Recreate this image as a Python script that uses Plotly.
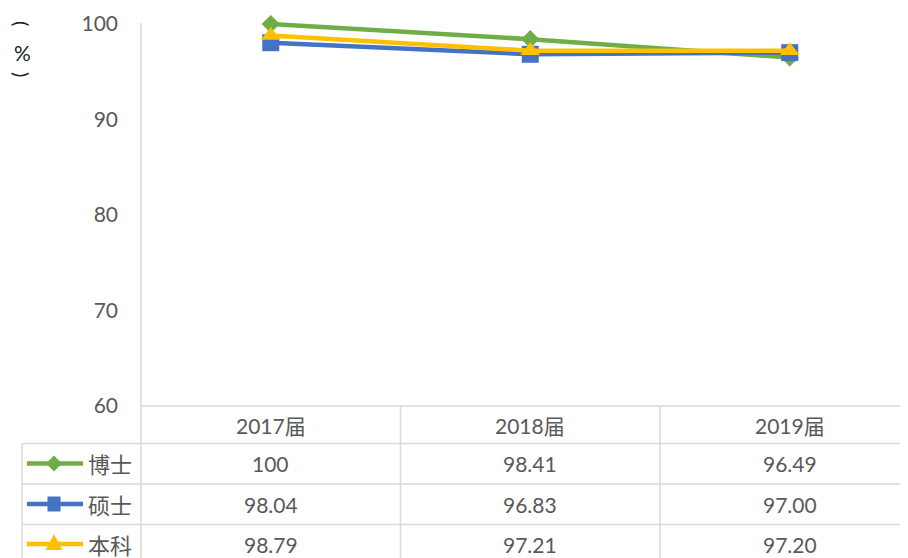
import plotly.graph_objects as go

categories = ["2017届", "2018届", "2019届"]
series_names = ["博士", "硕士", "本科"]
boshi = [100, 98.41, 96.49]
shuoshi = [98.04, 96.83, 97.00]
benke = [98.79, 97.21, 97.20]
y_ticks = [60, 70, 80, 90, 100]

series_values = [boshi, shuoshi, benke]
series_fmt = ["{:g}", "{:.2f}", "{:.2f}"]
colors = ["#70AD47", "#4472C4", "#FFC000"]
symbols = ["diamond", "square", "triangle-up"]
msizes = [14, 17, 17]

VW, VH = 908, 558          # browser viewport
OFF = 8                     # page body margin (screen = figure + OFF)
W, H = VW - OFF, VH - OFF   # figure fills the viewport without overflow
TXT = "#595959"
GRID = "#D9D9D9"
FONT = "Lato, 'Noto Sans CJK SC', sans-serif"

# screen-pixel layout targets
plot_left, plot_bottom, plot_top = 141, 406, 10
cat_w = 259.5
px_per_unit = 9.55

ML = plot_left - OFF
MT = plot_top - OFF
MB = H - (plot_bottom - OFF)
PW = W - ML
PH = H - MT - MB
x_range = [-0.5, -0.5 + PW / cat_w]
y_range = [60, 60 + PH / px_per_unit]


def sx(px):
    return (px - plot_left) / PW


def sy(py):
    return (plot_bottom - py) / PH


def cat_px(v):
    return plot_left + (v - x_range[0]) * cat_w


xs = list(range(len(categories)))
fig = go.Figure()
for name, vals, c, s, ms in zip(series_names, series_values, colors, symbols, msizes):
    fig.add_trace(go.Scatter(
        x=xs, y=vals, name=name, mode="lines+markers",
        line=dict(color=c, width=4.5),
        marker=dict(symbol=s, size=ms, color=c),
        cliponaxis=False, showlegend=False,
    ))


def hline(py, x0, x1, color=GRID, width=1.5):
    fig.add_shape(type="line", xref="paper", yref="paper",
                  x0=sx(x0), x1=sx(x1), y0=sy(py), y1=sy(py),
                  line=dict(color=color, width=width))


def vline(px, y0, y1):
    fig.add_shape(type="line", xref="paper", yref="paper",
                  x0=sx(px), x1=sx(px), y0=sy(y0), y1=sy(y1),
                  line=dict(color=GRID, width=1.5))


def poly(pts, color):
    d = "M " + " L ".join(f"{sx(x):.5f},{sy(y):.5f}" for x, y in pts) + " Z"
    fig.add_shape(type="path", xref="paper", yref="paper", path=d,
                  fillcolor=color, line=dict(color=color, width=0))


# table grid
right_edge = VW + 10
bottom_edge = VH + 10
hline(plot_bottom, plot_left, right_edge)
for py in [443.5, 484, 524.5]:
    hline(py, 22, right_edge)
vline(22, 443.5, bottom_edge)
vline(plot_left, 23, bottom_edge)
for i in range(len(categories) - 1):
    vline(cat_px(i + 0.5), plot_bottom, bottom_edge)

# legend keys in the table
row_centers = [463.5, 504, 544]
kx = 54
for c, s, rc in zip(colors, symbols, row_centers):
    hline(rc, 27, 83, color=c, width=4.5)
    if s == "diamond":
        poly([(kx, rc - 8), (kx + 8, rc), (kx, rc + 8), (kx - 8, rc)], c)
    elif s == "square":
        poly([(kx - 6.5, rc - 7.5), (kx + 6.5, rc - 7.5), (kx + 6.5, rc + 7.5), (kx - 6.5, rc + 7.5)], c)
    else:
        poly([(kx, rc - 10), (kx + 8.5, rc + 6), (kx - 8.5, rc + 6)], c)

# header
for i, cat in enumerate(categories):
    fig.add_annotation(x=i, y=sy(425), xref="x", yref="paper", text=cat,
                       xanchor="center", yanchor="middle", showarrow=False,
                       font=dict(family=FONT, size=21, color=TXT))
# rows
for name, vals, fmt, rc in zip(series_names, series_values, series_fmt, row_centers):
    fig.add_annotation(x=sx(86), y=sy(rc), xref="paper", yref="paper", text=name,
                       xanchor="left", yanchor="middle", showarrow=False,
                       font=dict(family="'Noto Sans CJK SC', sans-serif", size=22, color=TXT))
    for i, v in enumerate(vals):
        fig.add_annotation(x=i, y=sy(rc), xref="x", yref="paper", text=fmt.format(v),
                           xanchor="center", yanchor="middle", showarrow=False,
                           font=dict(family=FONT, size=21, color=TXT))

# y-axis title: vertical (%)
fig.add_annotation(x=sx(22), y=sy(23), xref="paper", yref="paper", text="(",
                   xanchor="center", yanchor="middle",
                   textangle=90, showarrow=False, font=dict(family=FONT, size=20, color="#222"))
fig.add_annotation(x=sx(22), y=sy(53), xref="paper", yref="paper", text="%",
                   xanchor="center", yanchor="middle",
                   showarrow=False, font=dict(family=FONT, size=21, color="#222"))
fig.add_annotation(x=sx(22), y=sy(74), xref="paper", yref="paper", text=")",
                   xanchor="center", yanchor="middle",
                   textangle=90, showarrow=False, font=dict(family=FONT, size=20, color="#222"))

fig.update_layout(
    width=W, height=H,
    margin=dict(l=ML, r=0, t=MT, b=MB, pad=0),
    paper_bgcolor="white", plot_bgcolor="white",
    xaxis=dict(range=x_range, showgrid=False, zeroline=False,
               showticklabels=False, showline=False, ticks=""),
    yaxis=dict(range=y_range, tickvals=y_ticks,
               showgrid=False, zeroline=False, showline=False, ticks="",
               ticklabelstandoff=22, tickfont=dict(family=FONT, size=21, color=TXT)),
)

fig.write_html("out.html")
